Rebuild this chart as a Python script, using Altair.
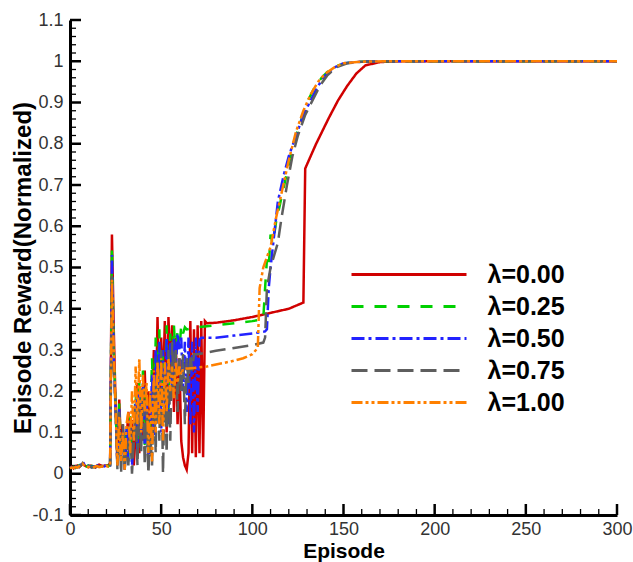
import altair as alt
import pandas as pd

# ---------------- data ----------------
series_names = ["λ=0.00", "λ=0.25", "λ=0.50", "λ=0.75", "λ=1.00"]
series_colors = ["#d00000", "#00d000", "#2222ff", "#5e5e5e", "#ff8000"]
series_dashes = [[1, 0], [12, 11], [13, 4, 3, 4], [16, 7], [11, 3, 3, 3, 3, 3]]

red_x = [0, 1, 2, 3, 4, 5, 6, 7, 8, 9, 10, 11, 12, 13, 14, 15, 16, 17, 18, 19, 20, 21, 22,
         23, 24, 25, 26, 27, 28, 29, 30, 31, 32, 33, 34, 35, 36, 37, 38, 39, 40, 41, 42, 43, 44,
         45, 46, 47, 48, 49, 50, 51, 52, 53, 54, 55, 56, 57, 58, 59, 60, 61, 62, 63, 64, 65,
         66, 67, 68, 69, 70, 71, 72, 73, 74, 75, 80, 90, 100, 110, 120, 128, 129, 135, 142,
         147, 152, 157, 162, 170, 180, 300]
red_y = [0.015, 0.017, 0.013, 0.018, 0.02, 0.016, 0.02, 0.025, 0.02, 0.018, 0.016, 0.02, 0.019,
         0.017, 0.015, 0.02, 0.022, 0.02, 0.018, 0.02, 0.019, 0.021, 0.025,
         0.58, 0.35, 0.17, 0.02, 0.18, 0.06, 0.12, 0.02, 0.08, 0.15, 0.05, 0.13, 0.02, 0.1, 0.22,
         0.05, 0.18, 0.08, 0.25, 0.1, 0.2, 0.05, 0.15, 0.3, 0.12, 0.38, 0.15, 0.33, 0.2, 0.37,
         0.1, 0.38, 0.25, 0.36, 0.15, 0.33, 0.12, 0.28, 0.08, 0.04, 0.02, 0.01, 0.05,
         0.37, 0.05, 0.35, 0.04, 0.36, 0.05, 0.37, 0.04, 0.37, 0.365, 0.366, 0.372, 0.38, 0.39,
         0.4, 0.415, 0.74, 0.8, 0.863, 0.905, 0.94, 0.97, 0.99, 0.998, 1.0, 1.0]

green_x = [0, 1, 2, 3, 4, 5, 6, 7, 8, 9, 10, 11, 12, 13, 14, 15, 16, 17, 18, 19, 20, 21, 22,
           23, 24, 25, 26, 27, 28, 29, 30, 31, 32, 33, 34, 35, 36, 37, 38, 39, 40, 41, 42, 43, 44,
           45, 46, 47, 48, 49, 50, 51, 52, 53, 54, 55, 56, 57, 58, 59, 60, 61, 62, 63, 64,
           70, 80, 90, 100, 106, 107, 108, 109, 110, 111, 112, 113, 115, 118, 121, 124, 127, 130,
           134, 138, 142, 147, 152, 160, 175, 300]
green_y = [0.016, 0.015, 0.017, 0.014, 0.018, 0.02, 0.024, 0.032, 0.022, 0.018, 0.02, 0.017,
           0.019, 0.016, 0.018, 0.021, 0.019, 0.02, 0.017, 0.019, 0.02, 0.018, 0.022,
           0.55, 0.3, 0.16, 0.03, 0.17, 0.05, 0.1, 0.02, 0.12, 0.04, 0.14, 0.03, 0.1, 0.2, 0.06,
           0.22, 0.1, 0.25, 0.07, 0.2, 0.04, 0.12, 0.28, 0.1, 0.33, 0.18, 0.35, 0.12, 0.3, 0.2,
           0.36, 0.15, 0.34, 0.22, 0.36, 0.28, 0.35, 0.3, 0.36, 0.34, 0.355, 0.35,
           0.355, 0.36, 0.365, 0.37, 0.375, 0.45, 0.52, 0.5, 0.58, 0.56, 0.58, 0.61, 0.65, 0.71,
           0.77, 0.82, 0.86, 0.9, 0.935, 0.96, 0.978, 0.99, 0.996, 0.999, 1.0, 1.0]

blue_x = [0, 1, 2, 3, 4, 5, 6, 7, 8, 9, 10, 11, 12, 13, 14, 15, 16, 17, 18, 19, 20, 21, 22,
          23, 24, 25, 26, 27, 28, 29, 30, 31, 32, 33, 34, 35, 36, 37, 38, 39, 40, 41, 42, 43, 44,
          45, 46, 47, 48, 49, 50, 51, 52, 53, 54, 55, 56, 57, 58, 59, 60, 61, 62, 63, 64, 65,
          66, 67, 68, 69, 70, 71, 72, 80, 90, 100, 107, 108, 109, 110, 112, 114, 117, 120, 124,
          128, 132, 136, 140, 145, 150, 160, 175, 300]
blue_y = [0.014, 0.016, 0.015, 0.017, 0.016, 0.019, 0.022, 0.03, 0.021, 0.017, 0.019, 0.018,
          0.016, 0.018, 0.017, 0.02, 0.018, 0.019, 0.02, 0.018, 0.021, 0.019, 0.02,
          0.53, 0.28, 0.15, 0.02, 0.16, 0.04, 0.09, 0.01, 0.11, 0.03, 0.13, 0.02, 0.09, 0.18, 0.05,
          0.2, 0.08, 0.22, 0.06, 0.18, 0.03, 0.1, 0.24, 0.08, 0.3, 0.15, 0.32, 0.1, 0.3, 0.16,
          0.33, 0.12, 0.32, 0.2, 0.33, 0.25, 0.34, 0.3, 0.33, 0.2, 0.32, 0.15, 0.33,
          0.12, 0.32, 0.1, 0.33, 0.15, 0.325, 0.33, 0.33, 0.335, 0.34, 0.345, 0.35, 0.45, 0.5,
          0.58, 0.66, 0.72, 0.77, 0.82, 0.87, 0.905, 0.94, 0.965, 0.985, 0.995, 0.999, 1.0, 1.0]

gray_x = [0, 1, 2, 3, 4, 5, 6, 7, 8, 9, 10, 11, 12, 13, 14, 15, 16, 17, 18, 19, 20, 21, 22,
          23, 24, 25, 26, 27, 28, 29, 30, 31, 32, 33, 34, 35, 36, 37, 38, 39, 40, 41, 42, 43, 44,
          45, 46, 47, 48, 49, 50, 51, 52, 53, 54, 55, 56, 57, 58, 59, 60, 61, 62, 63, 64, 65,
          66, 67, 68, 70, 80, 90, 100, 106, 107, 108, 110, 112, 114, 116, 119, 122, 125, 129,
          133, 137, 141, 146, 152, 160, 175, 300]
gray_y = [0.015, 0.014, 0.016, 0.015, 0.017, 0.016, 0.02, 0.026, 0.02, 0.016, 0.018, 0.017,
          0.015, 0.017, 0.016, 0.019, 0.017, 0.018, 0.019, 0.017, 0.02, 0.018, 0.02,
          0.48, 0.25, 0.17, 0.01, 0.15, 0.0, 0.12, 0.01, 0.08, 0.02, 0.12, 0.0, 0.08, 0.16, 0.02,
          0.18, 0.05, 0.2, 0.02, 0.15, 0.0, 0.1, 0.02, 0.22, 0.05, 0.28, 0.08, 0.3, 0.0, 0.25,
          0.05, 0.3, 0.08, 0.32, 0.2, 0.3, 0.15, 0.28, 0.2, 0.29, 0.12, 0.28, 0.22,
          0.29, 0.25, 0.29, 0.29, 0.298, 0.305, 0.312, 0.318, 0.33, 0.45, 0.5, 0.53, 0.56, 0.62,
          0.7, 0.77, 0.82, 0.87, 0.905, 0.94, 0.965, 0.985, 0.995, 0.999, 1.0, 1.0]

orange_x = [0, 1, 2, 3, 4, 5, 6, 7, 8, 9, 10, 11, 12, 13, 14, 15, 16, 17, 18, 19, 20, 21, 22,
            23, 24, 25, 26, 27, 28, 29, 30, 31, 32, 33, 34, 35, 36, 37, 38, 39, 40, 41, 42, 43, 44,
            45, 46, 47, 48, 49, 50, 51, 52, 53, 54, 55, 56, 57, 58, 59, 60, 61, 62, 65, 75, 88,
            95, 100, 103, 104, 106, 110, 113, 116, 120, 124, 128, 132, 136, 140, 145, 150, 160,
            175, 300]
orange_y = [0.013, 0.015, 0.014, 0.016, 0.015, 0.018, 0.02, 0.024, 0.019, 0.016, 0.017, 0.016,
            0.015, 0.016, 0.018, 0.018, 0.016, 0.017, 0.018, 0.016, 0.019, 0.017, 0.019,
            0.47, 0.3, 0.16, 0.02, 0.14, 0.03, 0.1, 0.01, 0.12, 0.15, 0.05, 0.2, 0.08, 0.26, 0.12,
            0.28, 0.1, 0.24, 0.15, 0.22, 0.05, 0.2, 0.03, 0.25, 0.1, 0.27, 0.12, 0.28, 0.08, 0.27,
            0.15, 0.28, 0.2, 0.26, 0.18, 0.27, 0.22, 0.26, 0.24, 0.255, 0.255, 0.26, 0.272,
            0.28, 0.29, 0.305, 0.45, 0.5, 0.55, 0.62, 0.68, 0.76, 0.83, 0.88, 0.92, 0.95, 0.97,
            0.985, 0.995, 0.999, 1.0, 1.0]

# axis tick values
x_major = [0, 50, 100, 150, 200, 250, 300]
x_minor = [10, 20, 30, 40, 60, 70, 80, 90, 110, 120, 130, 140, 160, 170, 180, 190,
           210, 220, 230, 240, 260, 270, 280, 290]
y_major = [-0.1, 0.0, 0.1, 0.2, 0.3, 0.4, 0.5, 0.6, 0.7, 0.8, 0.9, 1.0, 1.1]
y_minor = [round(-0.1 + 0.02 * i, 2) for i in range(61) if i % 5 != 0]

# ---------------- build table ----------------
series_xs = [red_x, green_x, blue_x, gray_x, orange_x]
series_ys = [red_y, green_y, blue_y, gray_y, orange_y]
rows = []
for name, xs, ys in zip(series_names, series_xs, series_ys):
    for xv, yv in zip(xs, ys):
        rows.append({"episode": xv, "reward": yv, "series": name})
df = pd.DataFrame(rows)

W, H = 547, 495
FONT = "Liberation Sans"
xs_scale = alt.Scale(domain=[0, 300], nice=False, zero=False)
ys_scale = alt.Scale(domain=[-0.1, 1.1], nice=False, zero=False)

x_axis = alt.Axis(values=x_major, ticks=False, tickSize=0, grid=False, domainColor="black",
                  domainWidth=3, labelFont=FONT, labelFontSize=18, labelColor="#333",
                  labelPadding=5, labelFlush=False, labelOverlap=False, format="d",
                  title="Episode", titleFont=FONT, titleFontSize=21, titleFontWeight="bold",
                  titleColor="black", titleX=W / 2, titleY=36, titleBaseline="middle",
                  titleAlign="center")
y_axis = alt.Axis(values=y_major, ticks=False, tickSize=0, grid=False, domainColor="black",
                  domainWidth=3, labelFont=FONT, labelFontSize=18, labelColor="#333",
                  labelPadding=7, labelFlush=False, labelOverlap=False,
                  labelExpr="datum.value < 0 ? '-' + format(-datum.value, '.1~f') : format(datum.value, '.1~f')",
                  title="Episode Reward(Normalized)", titleFont=FONT, titleFontSize=24,
                  titleFontWeight="bold", titleColor="black", titleX=-47, titleY=H / 2,
                  titleBaseline="middle", titleAlign="center", titleAngle=270)

legend = alt.Legend(title=None, orient="none", legendX=281, legendY=242, padding=0,
                    symbolType="M-11.5,0H11.5", symbolSize=100, symbolStrokeWidth=3,
                    symbolOffset=45.5, labelOffset=66, labelFont=FONT, labelFontSize=25,
                    labelFontWeight="bold", labelColor="black", rowPadding=6)

lines = alt.Chart(df).mark_line(strokeWidth=2.5).encode(
    x=alt.X("episode:Q", scale=xs_scale, axis=x_axis),
    y=alt.Y("reward:Q", scale=ys_scale, axis=y_axis),
    color=alt.Color("series:N", scale=alt.Scale(domain=series_names, range=series_colors),
                    legend=legend),
    strokeDash=alt.StrokeDash("series:N",
                              scale=alt.Scale(domain=series_names, range=series_dashes),
                              legend=legend),
)

y_maj = alt.Chart(pd.DataFrame({"v": y_major})).mark_rule(color="black", strokeWidth=2.5).encode(
    y=alt.Y("v:Q", scale=ys_scale, axis=y_axis), x=alt.value(0), x2=alt.value(11))
y_min = alt.Chart(pd.DataFrame({"v": y_minor})).mark_rule(color="black", strokeWidth=1.3).encode(
    y=alt.Y("v:Q", scale=ys_scale, axis=y_axis), x=alt.value(0), x2=alt.value(6))
x_maj = alt.Chart(pd.DataFrame({"v": x_major})).mark_rule(color="black", strokeWidth=2.5).encode(
    x=alt.X("v:Q", scale=xs_scale, axis=x_axis), y=alt.value(H), y2=alt.value(H - 11))
x_min = alt.Chart(pd.DataFrame({"v": x_minor})).mark_rule(color="black", strokeWidth=1.3).encode(
    x=alt.X("v:Q", scale=xs_scale, axis=x_axis), y=alt.value(H), y2=alt.value(H - 6))

chart = alt.layer(y_min, y_maj, x_min, x_maj, lines).properties(
    width=W, height=H,
    padding={"left": 70, "top": 20, "right": 16, "bottom": 47},
    autosize=alt.AutoSizeParams(type="none"),
).configure(font=FONT).configure_view(stroke=None)

chart.save("out.html", embed_options={"renderer": "svg", "actions": False})
